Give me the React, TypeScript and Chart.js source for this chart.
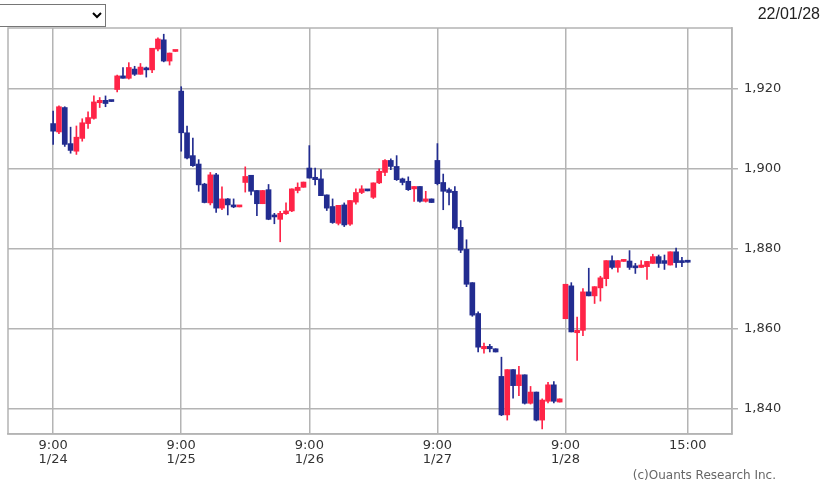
import React, { useEffect, useRef } from 'react';
import { Chart, registerables } from 'chart.js';

Chart.register(...registerables);

// 15-minute candles, 22 slots per trading day (1/24 .. 1/28)
const OPEN = [
  1911.2, 1909.1, 1915.2, 1906.2, 1904.3, 1907.5, 1911.2, 1912.5, 1916.4, 1917.0, 1916.9,
  1919.7, 1923.1, 1922.5, 1924.8, 1923.5, 1925.0, 1924.6, 1929.8, 1932.1, 1926.8, 1929.2,
  1919.3, 1908.9, 1903.2, 1901.1, 1896.1, 1891.4, 1898.4, 1890.1, 1892.4, 1890.9, 1890.4,
  1896.5, 1898.3, 1894.5, 1891.2, 1894.7, 1888.2, 1887.3, 1888.7, 1889.4, 1894.5, 1895.3,
  1900.1, 1897.8, 1897.4, 1893.4, 1890.5, 1886.3, 1890.9, 1886.1, 1891.6, 1894.0, 1894.6,
  1892.8, 1896.4, 1899.0, 1902.0, 1900.5, 1897.4, 1896.8, 1894.9, 1895.5, 1891.8, 1892.4,
  1902.0, 1896.5, 1894.7, 1894.3, 1885.3, 1879.8, 1871.5, 1863.8, 1855.0, 1855.6, 1855.0,
  1848.1, 1838.5, 1849.8, 1845.8, 1848.5, 1841.4, 1844.2, 1837.2, 1841.9, 1846.0, 1841.7,
  1862.5, 1870.7, 1859.0, 1859.6, 1869.2, 1868.2, 1870.2, 1872.5, 1877.0, 1875.3, 1876.8,
  1876.9, 1875.5, 1875.3, 1875.5, 1876.3, 1878.0, 1877.0, 1875.9, 1879.2, 1876.8, 1876.8,
];
const HIGH = [
  1914.3, 1915.6, 1915.4, 1910.3, 1910.6, 1912.4, 1914.1, 1918.1, 1917.7, 1918.1, 1916.9,
  1923.3, 1925.2, 1926.4, 1925.5, 1926.2, 1925.3, 1930.0, 1932.6, 1933.5, 1928.8, 1929.4,
  1920.4, 1910.6, 1907.6, 1902.2, 1896.3, 1899.0, 1898.8, 1895.4, 1892.5, 1892.4, 1890.6,
  1900.4, 1898.3, 1894.5, 1894.5, 1896.0, 1888.8, 1889.3, 1891.4, 1894.9, 1896.4, 1896.6,
  1905.7, 1900.1, 1899.7, 1893.4, 1892.4, 1890.8, 1891.4, 1892.0, 1894.9, 1895.7, 1894.6,
  1896.4, 1899.9, 1902.2, 1902.4, 1903.2, 1897.6, 1897.9, 1895.5, 1895.5, 1894.3, 1892.4,
  1906.2, 1898.6, 1895.1, 1895.5, 1887.0, 1882.2, 1871.5, 1864.2, 1856.4, 1856.1, 1855.0,
  1852.9, 1849.8, 1849.8, 1850.6, 1848.5, 1845.6, 1844.2, 1842.5, 1846.6, 1846.8, 1842.5,
  1871.1, 1871.5, 1862.9, 1870.0, 1875.1, 1870.5, 1873.1, 1877.0, 1878.2, 1877.0, 1877.2,
  1879.5, 1876.3, 1877.0, 1876.8, 1878.6, 1878.4, 1878.4, 1879.2, 1880.1, 1877.8, 1876.8,
];
const LOW = [
  1906.0, 1908.7, 1905.5, 1903.8, 1903.5, 1906.8, 1910.0, 1912.3, 1915.2, 1915.4, 1916.7,
  1919.1, 1922.5, 1922.3, 1923.2, 1923.5, 1922.8, 1923.9, 1929.3, 1926.6, 1925.8, 1929.2,
  1904.3, 1902.4, 1900.5, 1894.3, 1891.4, 1890.9, 1889.0, 1889.7, 1888.4, 1890.2, 1890.4,
  1894.1, 1893.4, 1888.2, 1891.2, 1887.2, 1886.2, 1881.7, 1888.5, 1889.2, 1893.9, 1895.3,
  1897.6, 1895.9, 1893.2, 1889.5, 1886.3, 1885.9, 1885.5, 1885.8, 1891.1, 1893.7, 1894.4,
  1892.5, 1896.2, 1898.2, 1899.7, 1897.0, 1895.9, 1894.5, 1891.8, 1891.6, 1891.6, 1891.5,
  1895.9, 1889.7, 1890.9, 1884.8, 1879.0, 1870.5, 1863.1, 1854.2, 1853.9, 1854.2, 1854.2,
  1838.3, 1837.2, 1842.7, 1843.3, 1841.2, 1841.2, 1837.0, 1835.0, 1841.5, 1841.5, 1841.7,
  1862.5, 1859.2, 1852.1, 1858.3, 1868.2, 1866.3, 1866.9, 1870.7, 1874.9, 1874.1, 1876.8,
  1874.8, 1873.8, 1875.3, 1872.3, 1876.3, 1875.3, 1874.8, 1875.9, 1875.3, 1875.5, 1876.6,
];
const CLOSE = [
  1909.3, 1915.4, 1906.0, 1904.5, 1907.8, 1911.4, 1912.7, 1916.6, 1917.0, 1916.2, 1916.7,
  1923.1, 1922.5, 1925.2, 1923.5, 1925.3, 1924.6, 1930.0, 1932.3, 1926.8, 1928.8, 1929.4,
  1908.9, 1902.6, 1900.7, 1895.9, 1891.5, 1898.4, 1890.1, 1892.4, 1890.9, 1890.4, 1890.6,
  1898.0, 1894.3, 1891.2, 1894.5, 1887.3, 1887.9, 1888.8, 1889.4, 1894.9, 1895.3, 1896.6,
  1897.6, 1897.2, 1893.2, 1890.1, 1886.5, 1890.8, 1885.9, 1892.0, 1894.0, 1894.9, 1894.4,
  1896.4, 1899.3, 1902.0, 1900.5, 1897.2, 1896.5, 1894.7, 1895.5, 1891.8, 1892.4, 1891.5,
  1896.2, 1894.3, 1894.0, 1885.1, 1879.6, 1871.1, 1863.4, 1855.4, 1855.6, 1855.0, 1854.2,
  1838.5, 1849.8, 1845.8, 1848.5, 1841.4, 1844.2, 1837.2, 1842.2, 1846.0, 1841.9, 1842.5,
  1871.1, 1859.2, 1859.6, 1869.2, 1868.2, 1870.5, 1872.7, 1877.0, 1875.3, 1877.0, 1877.2,
  1875.3, 1875.2, 1875.9, 1876.8, 1878.0, 1876.3, 1876.3, 1879.2, 1876.5, 1876.5, 1876.6,
];

const X_TICK_POS = [0, 22, 44, 66, 88, 109];
const X_TICK_LABELS = [
  ['9:00', '1/24'],
  ['9:00', '1/25'],
  ['9:00', '1/26'],
  ['9:00', '1/27'],
  ['9:00', '1/28'],
  ['15:00'],
];
const Y_TICKS = [1840, 1860, 1880, 1900, 1920];

const X_MIN = -7.75;
const X_MAX = 116.6;
const Y_MIN = 1833.73;
const Y_MAX = 1935.05;

const UP = '#ff2447';
const DOWN = '#222c90';
const GRID = '#b4b4b4';
const FONT = 'DejaVu Sans';

const frame = {
  id: 'frame',
  afterDatasetsDraw(chart: any) {
    const { ctx, chartArea } = chart;
    ctx.save();
    ctx.strokeStyle = GRID;
    ctx.lineWidth = 1.5;
    ctx.strokeRect(chartArea.left, chartArea.top, chartArea.right - chartArea.left, chartArea.bottom - chartArea.top);
    ctx.restore();
  },
};

export default function App() {
  const ref = useRef<HTMLCanvasElement>(null);

  useEffect(() => {
    if (!ref.current) return;
    const colors = OPEN.map((o, i) => (CLOSE[i] >= o ? UP : DOWN));
    const chart = new Chart(ref.current, {
      type: 'bar',
      data: {
        datasets: [
          {
            label: 'wick',
            data: OPEN.map((_, i) => ({ x: i, y: [LOW[i], HIGH[i]] })) as any,
            backgroundColor: colors,
            borderWidth: 0,
            barThickness: 1,
            grouped: false,
            order: 2,
          } as any,
          {
            label: 'body',
            data: OPEN.map((o, i) => ({ x: i, y: [o, CLOSE[i]] })) as any,
            backgroundColor: colors,
            borderWidth: 0,
            barThickness: 5,
            minBarLength: 2,
            grouped: false,
            order: 1,
          } as any,
        ],
      },
      options: {
        animation: false,
        responsive: false,
        maintainAspectRatio: false,
        layout: { padding: { left: 8, top: 28, right: 0, bottom: 0 } },
        plugins: { legend: { display: false }, tooltip: { enabled: false } },
        scales: {
          x: {
            type: 'linear',
            min: X_MIN,
            max: X_MAX,
            offset: false,
            grid: { color: GRID, lineWidth: 1.5, offset: false, drawTicks: false, tickLength: 0 },
            border: { color: GRID, width: 1.5 },
            ticks: {
              color: '#333',
              padding: 4,
              maxRotation: 0,
              autoSkip: false,
              font: { family: FONT, size: 13, lineHeight: 1.1 },
              callback: (v: any) => {
                const k = X_TICK_POS.indexOf(Number(v));
                return k >= 0 ? X_TICK_LABELS[k] : '';
              },
            },
            afterBuildTicks: (s: any) => {
              s.ticks = X_TICK_POS.map((v) => ({ value: v }));
            },
            afterFit: (s: any) => {
              s.height = 55;
            },
          } as any,
          y: {
            type: 'linear',
            position: 'right',
            min: Y_MIN,
            max: Y_MAX,
            grid: { color: GRID, lineWidth: 1.5, tickLength: 6 },
            border: { color: GRID, width: 1.5 },
            ticks: {
              color: '#333',
              padding: 6,
              font: { family: FONT, size: 13 },
              callback: (v: any) => Number(v).toLocaleString('en-US'),
            },
            afterBuildTicks: (s: any) => {
              s.ticks = Y_TICKS.map((v) => ({ value: v }));
            },
            afterFit: (s: any) => {
              s.width = 96;
            },
          } as any,
        },
      },
      plugins: [frame],
    });
    return () => chart.destroy();
  }, []);

  return (
    <div
      style={{
        position: 'fixed',
        left: 0,
        top: 0,
        width: 828,
        height: 489,
        overflow: 'hidden',
        background: '#fff',
      }}
    >
      <canvas ref={ref} width={828} height={489} style={{ position: 'absolute', left: 0, top: 0, width: 828, height: 489 }} />
      <select
        style={{
          position: 'absolute',
          left: -4,
          top: 4,
          width: 110,
          height: 23,
          fontSize: 13,
          background: '#fff',
        }}
      >
        <option value=""></option>
      </select>
      <div
        style={{
          position: 'absolute',
          right: 8,
          top: 5,
          fontFamily: 'Liberation Sans, Arial, sans-serif',
          fontSize: 16,
          color: '#222',
        }}
      >
        22/01/28
      </div>
      <div
        style={{
          position: 'absolute',
          right: 52,
          top: 468,
          fontFamily: FONT,
          fontSize: 12,
          color: '#666',
          whiteSpace: 'nowrap',
        }}
      >
        (c)Ouants Research Inc.
      </div>
    </div>
  );
}
